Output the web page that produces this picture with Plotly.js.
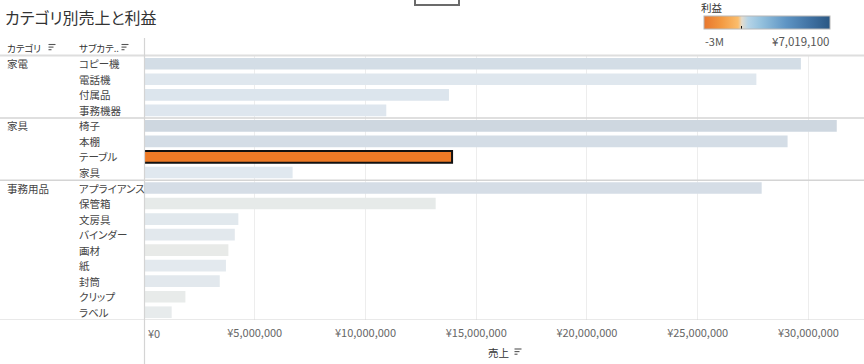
<!DOCTYPE html>
<html>
<head>
<meta charset="utf-8">
<script src="https://cdn.plot.ly/plotly-3.0.1.min.js"></script>
<style>
  html, body { margin: 0; padding: 0; background: #ffffff; }
  #chart { width: 864px; height: 364px; }
  #chart text { font-feature-settings: "palt" 1; }
</style>
</head>
<body>
<div id="chart"></div>
<script>
// ---------------- data ----------------
const chartTitle = 'カテゴリ別売上と利益';
const categories = ['家電', '家具', '事務用品'];
const subCategories = ['コピー機', '電話機', '付属品', '事務機器',
  '椅子', '本棚', 'テーブル', '家具',
  'アプライアンス', '保管箱', '文房具', 'バインダー', '画材', '紙', '封筒', 'クリップ', 'ラベル'];
const subCategoryParent = ['家電', '家電', '家電', '家電',
  '家具', '家具', '家具', '家具',
  '事務用品', '事務用品', '事務用品', '事務用品', '事務用品', '事務用品', '事務用品', '事務用品', '事務用品'];
const sales = [29660000, 27650000, 13770000, 10940000,
  31280000, 29060000, 13910000, 6710000,
  27890000, 13170000, 4260000, 4100000, 3810000, 3700000, 3420000, 1870000, 1250000];
const salesTicks = [0, 5000000, 10000000, 15000000, 20000000, 25000000, 30000000];
const profitMin = -3000000;
const profitMax = 7019100;
const profitMinLabel = '-3M';
const selectedSubCategory = 'テーブル';

// ---------------- styles ----------------
const barColors = ['#d3dde6', '#dfe7ee', '#dce5ed', '#dee6ee',
  '#ced7e0', '#d4dde6', '#ee7a26', '#e0e8ef',
  '#d5dde6', '#e6eae9', '#e1e8ed', '#e2e8ed', '#e8eae8', '#e3e9ee', '#e2e8ed', '#e8ebea', '#e7ebec'];
const profitScale = [
  [0.00, '#e8772e'], [0.14, '#f39a42'], [0.27, '#fbbd6c'], [0.30, '#e4dccd'],
  [0.35, '#b6d4e7'], [0.45, '#95c2de'], [0.65, '#5f95c4'], [0.85, '#3f70a1'], [1.00, '#2a5783']
];
const FONT = '"Noto Sans CJK JP", "Noto Sans", sans-serif';

const W = 864, H = 364;
const M = { l: 144, r: 0, t: 56, b: 44 };
const PW = W - M.l - M.r, PH = H - M.t - M.b;
const px = x => (x - M.l) / PW;          // pixel x -> paper x
const py = y => (H - M.b - y) / PH;      // pixel y -> paper y

// ---------------- traces ----------------
const barTrace = {
  type: 'bar',
  orientation: 'h',
  x: sales,
  y: subCategories,
  width: 0.75,
  marker: {
    color: barColors,
    line: {
      color: subCategories.map(s => s === selectedSubCategory ? '#111111' : 'rgba(255,255,255,0)'),
      width: subCategories.map(s => s === selectedSubCategory ? 2 : 0)
    }
  },
  hoverinfo: 'skip',
  showlegend: false
};

const legendTrace = {
  type: 'scatter',
  mode: 'markers',
  x: [0, 0],
  y: [subCategories[0], subCategories[0]],
  opacity: 0,
  hoverinfo: 'skip',
  showlegend: false,
  marker: {
    size: 1,
    color: [profitMin, profitMax],
    cmin: profitMin,
    cmax: profitMax,
    colorscale: profitScale,
    showscale: true,
    colorbar: {
      orientation: 'h',
      x: px(704), xanchor: 'left',
      y: py(33), yanchor: 'bottom',
      len: 126, lenmode: 'pixels',
      thickness: 13, thicknessmode: 'pixels',
      xpad: 0, ypad: 0,
      outlinewidth: 1, outlinecolor: '#b8b8b8',
      tickvals: [0], ticks: 'inside', ticklen: 3, tickcolor: '#111', tickwidth: 1.5,
      showticklabels: false
    }
  }
};

// ---------------- shapes ----------------
const shapes = [];
const lineShape = (x0, y0, x1, y1, color, width) => ({
  type: 'line', xref: 'paper', yref: 'paper',
  x0: px(x0), y0: py(y0), x1: px(x1), y1: py(y1),
  line: { color: color, width: width }, layer: 'above'
});
// horizontal separators: header line, category boundaries, bottom
shapes.push(lineShape(0, 55.5, W, 55.5, '#dedede', 2));
categories.forEach((c, i) => {
  if (i === 0) return;
  const idx = subCategoryParent.indexOf(c);
  shapes.push({ type: 'line', xref: 'paper', yref: 'y', x0: px(0), x1: 1, y0: idx - 0.5, y1: idx - 0.5,
    line: { color: '#d4d4d4', width: 1.5 }, layer: 'above' });
});
shapes.push({ type: 'line', xref: 'paper', yref: 'y', x0: px(0), x1: 1,
  y0: subCategories.length - 0.5, y1: subCategories.length - 0.5,
  line: { color: '#d4d4d4', width: 1.2 }, layer: 'above' });
// vertical divider at the axis origin
shapes.push(lineShape(144.5, 38, 144.5, H, '#d4d4d4', 1.2));
// small handle at the top
shapes.push({ type: 'rect', xref: 'paper', yref: 'paper',
  x0: px(415), x1: px(459), y0: py(5), y1: py(-2),
  fillcolor: '#ffffff', line: { color: '#6b6b6b', width: 2 } });
// sort icons
function sortIcon(x, y) {
  const lens = [7, 5, 3];
  lens.forEach((L, i) => shapes.push(lineShape(x, y + i * 2.6, x + L, y + i * 2.6, '#555555', 1.1)));
}
sortIcon(48.5, 44.5);
sortIcon(121.5, 44.5);
sortIcon(514.5, 349);

// ---------------- annotations ----------------
const ann = [];
const textAnn = (text, x, y, size, color, anchor) => ({
  text: text, xref: 'paper', yref: 'paper', x: px(x), y: py(y),
  xanchor: anchor || 'left', align: anchor || 'left', yanchor: 'middle', showarrow: false,
  font: { family: FONT, size: size, color: color }
});
ann.push(textAnn(chartTitle, 3, 17, 16, '#333333'));
ann.push(textAnn('カテゴリ', 5, 48, 9.5, '#333333'));
ann.push(textAnn('サブカテ..', 77, 48, 9.5, '#333333'));
ann.push(textAnn('利益', 699, 7, 10.5, '#333333'));
ann.push(textAnn(profitMinLabel, 703, 41, 11, '#555555'));
ann.push(textAnn('¥' + profitMax.toLocaleString('en-US'), 831, 41, 11.5, '#555555', 'right'));
ann.push(textAnn('売上', 511, 352, 10.5, '#333333', 'right'));

subCategories.forEach((s, i) => {
  ann.push({ text: s, xref: 'paper', yref: 'y', x: px(77), y: s, xanchor: 'left', align: 'left', yanchor: 'middle',
    showarrow: false, font: { family: FONT, size: 10.5, color: '#444444' } });
});
categories.forEach(c => {
  const first = subCategories[subCategoryParent.indexOf(c)];
  ann.push({ text: c, xref: 'paper', yref: 'y', x: px(5), y: first, xanchor: 'left', align: 'left', yanchor: 'middle',
    showarrow: false, font: { family: FONT, size: 10.5, color: '#444444' } });
});
// first tick label sits just right of the origin
ann.push({ text: '¥' + salesTicks[0], xref: 'x', yref: 'paper', x: salesTicks[0], y: py(333),
  xanchor: 'left', align: 'left', yanchor: 'middle', xshift: 2, showarrow: false,
  font: { family: FONT, size: 11, color: '#666666' } });

// ---------------- layout ----------------
const layout = {
  width: W, height: H,
  margin: M,
  paper_bgcolor: '#ffffff',
  plot_bgcolor: '#ffffff',
  font: { family: FONT, size: 10, color: '#555555' },
  bargap: 0.25,
  xaxis: {
    range: [0, 32510000],
    tickvals: salesTicks,
    ticktext: salesTicks.map((v, i) => i === 0 ? '' : '¥' + v.toLocaleString('en-US')),
    showgrid: true, gridcolor: '#ededed', gridwidth: 1,
    zeroline: false, showline: false, ticks: '',
    ticklabelstandoff: 5,
    tickfont: { family: FONT, size: 11, color: '#666666' },
    fixedrange: true
  },
  yaxis: {
    type: 'category',
    categoryorder: 'array',
    categoryarray: subCategories,
    range: [subCategories.length - 0.5, -0.5],
    showticklabels: false, showgrid: false, zeroline: false, showline: false, ticks: '',
    fixedrange: true
  },
  shapes: shapes,
  annotations: ann,
  showlegend: false
};

Plotly.newPlot('chart', [barTrace, legendTrace], layout, { displayModeBar: false, staticPlot: true });
</script>
</body>
</html>
